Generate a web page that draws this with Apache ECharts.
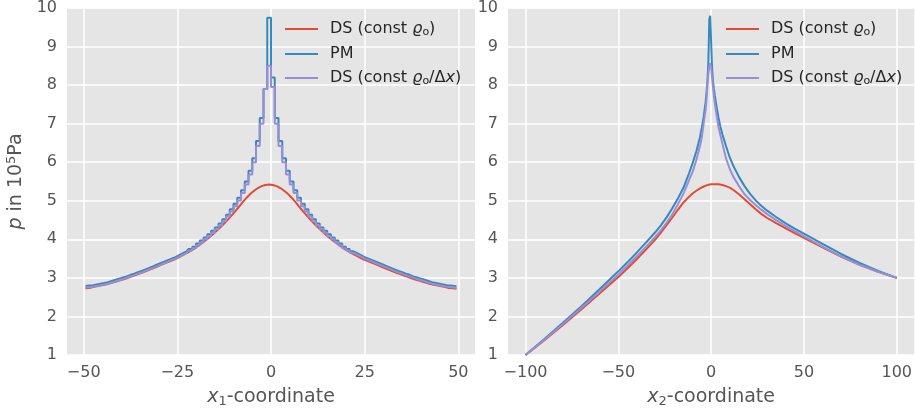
<!DOCTYPE html>
<html>
<head>
<meta charset="utf-8">
<script src="https://cdn.jsdelivr.net/npm/echarts@6/dist/echarts.min.js"></script>
<style>
  html, body { margin: 0; padding: 0; background: #ffffff; }
  #chart { width: 915px; height: 413px; }
</style>
</head>
<body>
<div id="chart"></div>
<script>
// Pressure profiles p (in 10^5 Pa) along two coordinate lines.

// ---- x1 line: cell centres ----
const x1Cells = [
  -49.5, -48.5, -47.5, -46.5, -45.5, -44.5, -43.5, -42.5, -41.5, -40.5,
  -39.5, -38.5, -37.5, -36.5, -35.5, -34.5, -33.5, -32.5, -31.5, -30.5,
  -29.5, -28.5, -27.5, -26.5, -25.5, -24.5, -23.5, -22.5, -21.5, -20.5,
  -19.5, -18.5, -17.5, -16.5, -15.5, -14.5, -13.5, -12.5, -11.5, -10.5,
  -9.5, -8.5, -7.5, -6.5, -5.5, -4.5, -3.5, -2.5, -1.5, -0.5,
  0.5, 1.5, 2.5, 3.5, 4.5, 5.5, 6.5, 7.5, 8.5, 9.5,
  10.5, 11.5, 12.5, 13.5, 14.5, 15.5, 16.5, 17.5, 18.5, 19.5,
  20.5, 21.5, 22.5, 23.5, 24.5, 25.5, 26.5, 27.5, 28.5, 29.5,
  30.5, 31.5, 32.5, 33.5, 34.5, 35.5, 36.5, 37.5, 38.5, 39.5,
  40.5, 41.5, 42.5, 43.5, 44.5, 45.5, 46.5, 47.5, 48.5, 49.5
];

// DS (const rho_o) along x1
const x1DsConst = [
  2.73, 2.74, 2.76, 2.78, 2.80, 2.82, 2.84, 2.87, 2.90, 2.93,
  2.96, 2.99, 3.03, 3.06, 3.10, 3.13, 3.17, 3.21, 3.25, 3.29,
  3.33, 3.37, 3.41, 3.45, 3.49, 3.54, 3.59, 3.64, 3.70, 3.76,
  3.83, 3.90, 3.97, 4.05, 4.13, 4.22, 4.31, 4.41, 4.51, 4.62,
  4.73, 4.85, 4.97, 5.08, 5.18, 5.26, 5.33, 5.38, 5.41, 5.42,
  5.41, 5.38, 5.33, 5.26, 5.18, 5.08, 4.97, 4.85, 4.73, 4.62,
  4.51, 4.41, 4.31, 4.22, 4.13, 4.05, 3.97, 3.90, 3.83, 3.76,
  3.70, 3.64, 3.59, 3.54, 3.49, 3.45, 3.41, 3.37, 3.33, 3.29,
  3.25, 3.21, 3.17, 3.13, 3.10, 3.06, 3.03, 2.99, 2.96, 2.93,
  2.90, 2.87, 2.84, 2.82, 2.80, 2.78, 2.76, 2.74, 2.73, 2.72
];

// PM along x1
const x1Pm = [
  2.79, 2.80, 2.81, 2.83, 2.85, 2.87, 2.89, 2.92, 2.95, 2.98,
  3.01, 3.04, 3.08, 3.11, 3.15, 3.18, 3.22, 3.26, 3.30, 3.34,
  3.38, 3.42, 3.46, 3.50, 3.54, 3.59, 3.64, 3.69, 3.75, 3.81,
  3.89, 3.97, 4.05, 4.13, 4.22, 4.31, 4.41, 4.52, 4.64, 4.78,
  4.92, 5.08, 5.27, 5.50, 5.78, 6.10, 6.55, 7.15, 7.90, 9.75,
  8.20, 7.15, 6.55, 6.10, 5.78, 5.50, 5.27, 5.08, 4.92, 4.78,
  4.64, 4.52, 4.41, 4.31, 4.22, 4.13, 4.05, 3.97, 3.89, 3.81,
  3.75, 3.69, 3.64, 3.59, 3.54, 3.50, 3.46, 3.42, 3.38, 3.34,
  3.30, 3.26, 3.22, 3.18, 3.15, 3.11, 3.08, 3.04, 3.01, 2.98,
  2.95, 2.92, 2.89, 2.87, 2.85, 2.83, 2.81, 2.80, 2.79, 2.78
];

// DS (const rho_o / dx) along x1
const x1DsDx = [
  2.75, 2.76, 2.77, 2.79, 2.81, 2.83, 2.85, 2.88, 2.91, 2.94,
  2.97, 3.00, 3.04, 3.07, 3.11, 3.14, 3.18, 3.22, 3.26, 3.30,
  3.34, 3.38, 3.42, 3.46, 3.50, 3.55, 3.60, 3.65, 3.71, 3.77,
  3.84, 3.92, 4.00, 4.08, 4.17, 4.26, 4.36, 4.47, 4.59, 4.72,
  4.86, 5.01, 5.20, 5.42, 5.68, 6.00, 6.42, 7.00, 7.90, 8.50,
  7.95, 7.00, 6.42, 6.00, 5.68, 5.42, 5.20, 5.01, 4.86, 4.72,
  4.59, 4.47, 4.36, 4.26, 4.17, 4.08, 4.00, 3.92, 3.84, 3.77,
  3.71, 3.65, 3.60, 3.55, 3.50, 3.46, 3.42, 3.38, 3.34, 3.30,
  3.26, 3.22, 3.18, 3.14, 3.11, 3.07, 3.04, 3.00, 2.97, 2.94,
  2.91, 2.88, 2.85, 2.83, 2.81, 2.79, 2.77, 2.76, 2.75, 2.74
];

// ---- x2 line: sample positions ----
const x2Points = [
  -100, -90, -80, -70, -60, -50, -45, -40, -35, -30,
  -27, -24, -21, -18, -15, -12, -10, -8, -6, -5,
  -4, -3, -2.5, -2, -1.5, -1, -0.5, 0, 0.5, 1,
  1.5, 2, 3, 4, 5, 6, 8, 10, 12, 15,
  18, 21, 24, 27, 30, 35, 40, 45, 50, 60,
  70, 80, 90, 100
];

const x2DsConst = [
  1.00, 1.38, 1.77, 2.18, 2.60, 3.02, 3.25, 3.49, 3.74, 4.00,
  4.18, 4.37, 4.56, 4.76, 4.95, 5.10, 5.19, 5.26, 5.32, 5.35,
  5.37, 5.39, 5.40, 5.41, 5.41, 5.42, 5.42, 5.42, 5.43, 5.43,
  5.43, 5.43, 5.43, 5.43, 5.42, 5.41, 5.38, 5.34, 5.28, 5.17,
  5.04, 4.91, 4.78, 4.66, 4.56, 4.42, 4.29, 4.16, 4.04, 3.79,
  3.55, 3.34, 3.16, 3.00
];

const x2Pm = [
  1.00, 1.41, 1.83, 2.26, 2.71, 3.17, 3.41, 3.66, 3.92, 4.19,
  4.37, 4.57, 4.80, 5.05, 5.33, 5.70, 5.97, 6.28, 6.65, 6.90,
  7.18, 7.55, 7.80, 8.10, 8.60, 9.70, 9.80, 9.10, 8.45, 8.10,
  7.90, 7.72, 7.42, 7.15, 6.92, 6.73, 6.42, 6.13, 5.90, 5.62,
  5.38, 5.18, 5.01, 4.87, 4.75, 4.58, 4.42, 4.28, 4.15, 3.88,
  3.62, 3.39, 3.18, 3.00
];

const x2DsDx = [
  1.00, 1.39, 1.80, 2.22, 2.65, 3.09, 3.32, 3.56, 3.81, 4.07,
  4.24, 4.43, 4.64, 4.90, 5.18, 5.52, 5.75, 6.05, 6.42, 6.65,
  7.02, 7.35, 7.62, 8.00, 8.30, 8.50, 8.57, 8.45, 8.20, 7.95,
  7.72, 7.52, 7.20, 6.90, 6.70, 6.50, 6.10, 5.83, 5.62, 5.38,
  5.17, 5.02, 4.89, 4.77, 4.66, 4.50, 4.35, 4.21, 4.08, 3.81,
  3.56, 3.34, 3.16, 3.00
];

// ---- axis ticks ----
const x1Ticks = [-50, -25, 0, 25, 50];
const x2Ticks = [-100, -50, 0, 50, 100];

const seriesNames = ['DS (const ϱo)', 'PM', 'DS (const ϱo/Δx)'];
const seriesColors = ['#E24A33', '#348ABD', '#988ED5'];
const legendRich = {
  'DS (const ϱo)': 'DS (const {it|ϱ}{sub|o})',
  'PM': 'PM',
  'DS (const ϱo/Δx)': 'DS (const {it|ϱ}{sub|o}/Δ{it|x})'
};

const FONT = 'DejaVu Sans';
const TICK_COLOR = '#555555';
const pairs = (xs, ys) => xs.map((x, i) => [x, ys[i]]);
const minusSign = v => String(v).replace('-', '\u2212');

function xAxisFor(gridIndex, min, max, ticks, sub) {
  return {
    type: 'value', gridIndex, min, max,
    axisLine: { show: false },
    axisTick: { show: false, customValues: ticks },
    axisLabel: {
      customValues: ticks, formatter: minusSign, margin: 10,
      color: TICK_COLOR, fontFamily: FONT, fontSize: 16
    },
    splitLine: { show: true, lineStyle: { color: '#ffffff', width: 1.5 } },
    name: '{it|x}{sub|' + sub + '}-coordinate',
    nameLocation: 'middle', nameGap: 29,
    nameTextStyle: {
      color: TICK_COLOR, fontFamily: FONT, fontSize: 19, lineHeight: 22,
      rich: {
        it: { fontStyle: 'italic', fontFamily: FONT, fontSize: 19, color: TICK_COLOR, lineHeight: 22 },
        sub: { fontFamily: FONT, fontSize: 13, color: TICK_COLOR, lineHeight: 22, padding: [9, 0, 0, 0], verticalAlign: 'top' }
      }
    }
  };
}

function yAxisFor(gridIndex, withName) {
  const ax = {
    type: 'value', gridIndex, min: 1, max: 10, interval: 1,
    axisLine: { show: false },
    axisTick: { show: false },
    axisLabel: { margin: 10, color: TICK_COLOR, fontFamily: FONT, fontSize: 16 },
    splitLine: { show: true, lineStyle: { color: '#ffffff', width: 1.5 } }
  };
  if (withName) {
    Object.assign(ax, {
      name: '{it|p} in 10{sup|5}Pa',
      nameLocation: 'middle', nameRotate: 90, nameGap: 40,
      nameTextStyle: {
        color: TICK_COLOR, fontFamily: FONT, fontSize: 19, lineHeight: 22,
        rich: {
          it: { fontStyle: 'italic', fontFamily: FONT, fontSize: 19, color: TICK_COLOR, lineHeight: 22 },
          sup: { fontFamily: FONT, fontSize: 13, color: TICK_COLOR, lineHeight: 22, padding: [0, 0, 9, 0], verticalAlign: 'top' }
        }
      }
    });
  }
  return ax;
}

function legendFor(left) {
  return {
    data: seriesNames, orient: 'vertical', left, top: 21, padding: 0,
    itemGap: 8, itemWidth: 33, itemHeight: 2, icon: 'rect',
    formatter: name => legendRich[name],
    textStyle: {
      color: '#262626', fontFamily: FONT, fontSize: 16, lineHeight: 16, padding: [0, 0, 0, 7],
      rich: {
        it: { fontStyle: 'italic', fontFamily: FONT, fontSize: 16, color: '#262626', lineHeight: 16 },
        sub: { fontFamily: FONT, fontSize: 11, color: '#262626', lineHeight: 16, padding: [6, 0, 0, 0], verticalAlign: 'top' }
      }
    }
  };
}

function lineSeries(i, xIdx, data, step) {
  return {
    type: 'line', name: seriesNames[i], xAxisIndex: xIdx, yAxisIndex: xIdx,
    data, step, showSymbol: false, smooth: false, animation: false,
    lineStyle: { color: seriesColors[i], width: 2 },
    itemStyle: { color: seriesColors[i] }, z: 2 + i
  };
}

const chart = echarts.init(document.getElementById('chart'), null, { renderer: 'canvas' });
chart.setOption({
  animation: false,
  backgroundColor: '#ffffff',
  grid: [
    { left: 67, top: 8, width: 408, height: 347, show: true, backgroundColor: '#E5E5E5', borderWidth: 0 },
    { left: 508, top: 8, width: 408, height: 347, show: true, backgroundColor: '#E5E5E5', borderWidth: 0 }
  ],
  xAxis: [
    xAxisFor(0, -54.45, 54.45, x1Ticks, '1'),
    xAxisFor(1, -109.45, 109.45, x2Ticks, '2')
  ],
  yAxis: [yAxisFor(0, true), yAxisFor(1, false)],
  legend: [legendFor(285), legendFor(726)],
  series: [
    lineSeries(0, 0, pairs(x1Cells, x1DsConst), false),
    lineSeries(1, 0, pairs(x1Cells, x1Pm), 'middle'),
    lineSeries(2, 0, pairs(x1Cells, x1DsDx), 'middle'),
    lineSeries(0, 1, pairs(x2Points, x2DsConst), false),
    lineSeries(1, 1, pairs(x2Points, x2Pm), false),
    lineSeries(2, 1, pairs(x2Points, x2DsDx), false)
  ]
});
</script>
</body>
</html>
